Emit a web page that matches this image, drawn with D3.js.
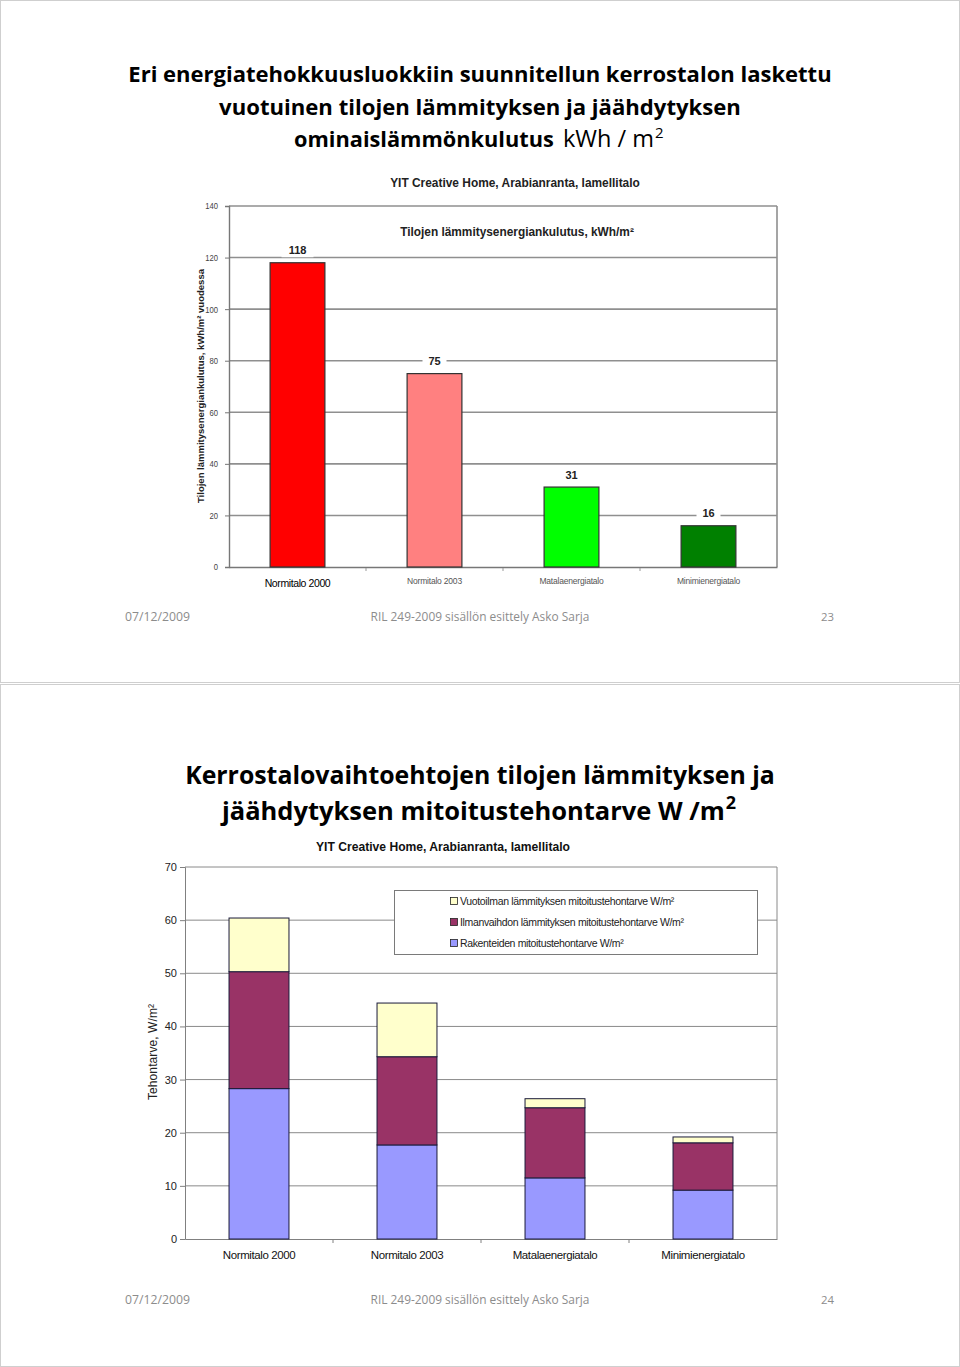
<!DOCTYPE html>
<html><head><meta charset="utf-8">
<script src="https://cdn.jsdelivr.net/npm/d3@7"></script>
<style>
html,body{margin:0;padding:0;background:#fff;}
svg{display:block;}
</style></head>
<body>
<svg id="c" width="960" height="1367"></svg>
<script>
// ---------- data ----------
const topCategories = ["Normitalo 2000", "Normitalo 2003", "Matalaenergiatalo", "Minimienergiatalo"];
const topValues = [118, 75, 31, 16];
const topColors = ["#FF0000", "#FF8080", "#00FF00", "#008000"];
const topTicks = [0, 20, 40, 60, 80, 100, 120, 140];

const botCategories = ["Normitalo 2000", "Normitalo 2003", "Matalaenergiatalo", "Minimienergiatalo"];
const seriesNames = ["Rakenteiden mitoitustehontarve W/m²", "Ilmanvaihdon lämmityksen mitoitustehontarve W/m²", "Vuotoilman lämmityksen mitoitustehontarve W/m²"];
const rakenteiden = [28.3, 17.7, 11.5, 9.2];
const ilmanvaihdon = [22.0, 16.6, 13.2, 8.9];
const vuotoilman = [10.1, 10.1, 1.7, 1.1];
const seriesColors = ["#9999FF", "#993366", "#FFFFCC"];
const botTicks = [0, 10, 20, 30, 40, 50, 60, 70];

const svg = d3.select("#c");
const sans = "'Liberation Sans', Arial, sans-serif";
const titleFont = "'Open Sans', 'Noto Sans', sans-serif";

// slide frames
svg.append("rect").attr("x", 0.5).attr("y", 0.5).attr("width", 959).attr("height", 682).attr("fill", "#fff").attr("stroke", "#cfcfcf");
svg.append("rect").attr("x", 0.5).attr("y", 684.5).attr("width", 959).attr("height", 682).attr("fill", "#fff").attr("stroke", "#cfcfcf");

// text fitted to a target width: shrink font if too wide, stretch spacing if too narrow
function fitText(g, x, y, w, txt, opts) {
  const t = g.append("text").attr("x", x).attr("y", y)
    .attr("font-family", opts.family || sans).attr("font-size", opts.size)
    .attr("font-weight", opts.weight || "normal").attr("fill", opts.fill || "#000")
    .attr("text-anchor", opts.anchor || "start").text(txt);
  if (w) {
    const nat = t.node().getComputedTextLength();
    if (nat > w) {
      t.attr("font-size", opts.size * w / nat);
    } else if (nat < w) {
      t.attr("textLength", w).attr("lengthAdjust", "spacing");
    }
  }
  if (opts.rotate) t.attr("transform", `rotate(-90,${x},${y})`);
  return t;
}

// ---------- slide 1 titles ----------
fitText(svg, 480, 82, 704, "Eri energiatehokkuusluokkiin suunnitellun kerrostalon  laskettu", {size: 24, weight: "bold", family: titleFont, anchor: "middle"});
fitText(svg, 480, 115, 522, "vuotuinen tilojen lämmityksen ja jäähdytyksen", {size: 24, weight: "bold", family: titleFont, anchor: "middle"});
fitText(svg, 294, 147, 260, "ominaislämmönkulutus", {size: 24, weight: "bold", family: titleFont});
const kwh = fitText(svg, 563, 147, 91, "kWh / m", {size: 24, family: titleFont});
fitText(svg, 563 + kwh.node().getComputedTextLength() + 1, 138, null, "2", {size: 15, family: titleFont});

// ---------- top chart ----------
const tL = 229, tR = 777, tT = 206, tB = 567;
const xTop = d3.scaleBand().domain(topCategories).range([tL, tR]).paddingInner(0.6).paddingOuter(0.3);
const yTop = d3.scaleLinear().domain([0, 140]).range([tB, tT]);
const gt = svg.append("g");

// gridlines
gt.append("g").selectAll("line").data(topTicks.filter(d => d > 0)).join("line")
  .attr("x1", tL).attr("x2", tR).attr("y1", d => yTop(d)).attr("y2", d => yTop(d))
  .attr("stroke", "#8f8f8f").attr("stroke-width", 1.6);
gt.append("line").attr("x1", tR).attr("x2", tR).attr("y1", tT).attr("y2", tB).attr("stroke", "#8f8f8f").attr("stroke-width", 1.6);

// y axis
const yAxT = gt.append("g").attr("transform", `translate(${tL},0)`)
  .call(d3.axisLeft(yTop).tickValues(topTicks).tickSize(4).tickPadding(5).tickFormat(d3.format("d")));
yAxT.select(".domain").attr("stroke", "#777").attr("stroke-width", 1.4);
yAxT.selectAll(".tick line").attr("stroke", "#777");
yAxT.selectAll(".tick text").attr("font-family", sans).attr("font-size", 9).attr("fill", "#444")
  .attr("transform", "scale(0.85,1)").attr("x", -11 / 0.85);

// x axis
const xAxT = gt.append("g").attr("transform", `translate(0,${tB})`)
  .call(d3.axisBottom(xTop).tickSize(0).tickFormat(""));
xAxT.select(".domain").attr("stroke", "#777").attr("stroke-width", 1.6);
gt.append("g").selectAll("line").data(topCategories.slice(1)).join("line")
  .attr("x1", d => xTop(d) - (xTop.step() - xTop.bandwidth()) / 2)
  .attr("x2", d => xTop(d) - (xTop.step() - xTop.bandwidth()) / 2)
  .attr("y1", tB + 1).attr("y2", tB + 4).attr("stroke", "#999");

// bars
gt.append("g").selectAll("rect").data(topValues).join("rect")
  .attr("x", (d, i) => xTop(topCategories[i])).attr("width", xTop.bandwidth())
  .attr("y", d => yTop(d)).attr("height", d => tB - yTop(d))
  .attr("fill", (d, i) => topColors[i]).attr("stroke", "#333").attr("stroke-width", 1.2);

// value labels with white background
const vl = gt.append("g").selectAll("g").data(topValues).join("g")
  .attr("transform", (d, i) => `translate(${xTop(topCategories[i]) + xTop.bandwidth() / 2},${yTop(d) - 12.5})`);
vl.append("rect").attr("x", d => -String(d).length * 4 - 4).attr("width", d => String(d).length * 8 + 8)
  .attr("y", -7).attr("height", 14).attr("fill", "#fff");
vl.append("text").text(d => d).attr("text-anchor", "middle").attr("dy", "0.36em")
  .attr("font-family", sans).attr("font-weight", "bold").attr("font-size", 11).attr("fill", "#222");

// category labels
gt.append("g").selectAll("text").data(topCategories).join("text")
  .attr("x", d => xTop(d) + xTop.bandwidth() / 2).attr("y", (d, i) => i === 0 ? 587 : 584)
  .attr("text-anchor", "middle").attr("font-family", sans)
  .attr("font-size", (d, i) => i === 0 ? 10.5 : 8.5).attr("fill", (d, i) => i === 0 ? "#000" : "#555")
  .attr("letter-spacing", (d, i) => i === 0 ? -0.4 : -0.2)
  .text(d => d);

// chart titles
fitText(gt, 515, 187, 250, "YIT Creative Home, Arabianranta, lamellitalo", {size: 12, weight: "bold", anchor: "middle", fill: "#222"});
fitText(gt, 517, 236, 234, "Tilojen lämmitysenergiankulutus, kWh/m²", {size: 12, weight: "bold", anchor: "middle", fill: "#222"});
fitText(gt, 204, 386, 234, "Tilojen lämmitysenergiankulutus, kWh/m² vuodessa", {size: 9.5, weight: "bold", anchor: "middle", fill: "#222", rotate: true});

// footer 1
const footerFill = "#8c8c8c";
fitText(svg, 125, 621, 65, "07/12/2009", {size: 12.5, family: titleFont, fill: footerFill});
fitText(svg, 480, 621, 219, "RIL 249-2009 sisällön esittely  Asko Sarja", {size: 12.5, family: titleFont, fill: footerFill, anchor: "middle"});
fitText(svg, 834, 621, 13, "23", {size: 12.5, family: titleFont, fill: footerFill, anchor: "end"});

// ---------- slide 2 titles ----------
fitText(svg, 480, 784, 590, "Kerrostalovaihtoehtojen tilojen lämmityksen ja", {size: 28, weight: "bold", family: titleFont, anchor: "middle"});
const l2 = fitText(svg, 222, 820, 503, "jäähdytyksen  mitoitustehontarve W /m", {size: 28, weight: "bold", family: titleFont});
fitText(svg, 222 + l2.node().getComputedTextLength() + 1, 809, null, "2", {size: 18, weight: "bold", family: titleFont});

// ---------- bottom chart ----------
const bL = 185, bR = 777, bT = 867, bB = 1239;
const xBot = d3.scaleBand().domain(botCategories).range([bL, bR]).paddingInner(0.595).paddingOuter(0.2975);
const yBot = d3.scaleLinear().domain([0, 70]).range([bB, bT]);
const gb = svg.append("g");

gb.append("g").selectAll("line").data(botTicks.filter(d => d > 0)).join("line")
  .attr("x1", bL).attr("x2", bR).attr("y1", d => yBot(d)).attr("y2", d => yBot(d))
  .attr("stroke", "#8a8a8a").attr("stroke-width", 1);
gb.append("line").attr("x1", bR).attr("x2", bR).attr("y1", bT).attr("y2", bB).attr("stroke", "#8a8a8a");

const yAxB = gb.append("g").attr("transform", `translate(${bL},0)`)
  .call(d3.axisLeft(yBot).tickValues(botTicks).tickSize(5).tickPadding(3).tickFormat(d3.format("d")));
yAxB.select(".domain").attr("stroke", "#808080");
yAxB.selectAll(".tick line").attr("stroke", "#808080");
yAxB.selectAll(".tick text").attr("font-family", sans).attr("font-size", 11).attr("fill", "#222");

const xAxB = gb.append("g").attr("transform", `translate(0,${bB})`)
  .call(d3.axisBottom(xBot).tickSize(0).tickPadding(12));
xAxB.select(".domain").attr("stroke", "#808080");
xAxB.selectAll(".tick text").attr("font-family", sans).attr("font-size", 11.5).attr("fill", "#111").attr("letter-spacing", -0.4);
gb.append("g").selectAll("line").data(botCategories.slice(1)).join("line")
  .attr("x1", d => xBot(d) - (xBot.step() - xBot.bandwidth()) / 2)
  .attr("x2", d => xBot(d) - (xBot.step() - xBot.bandwidth()) / 2)
  .attr("y1", bB).attr("y2", bB + 4).attr("stroke", "#808080");

// stacked bars
const stackRows = botCategories.map((c, i) => ({cat: c, s0: rakenteiden[i], s1: ilmanvaihdon[i], s2: vuotoilman[i]}));
const stacked = d3.stack().keys(["s0", "s1", "s2"])(stackRows);
gb.append("g").selectAll("g").data(stacked).join("g")
  .attr("fill", (d, i) => seriesColors[i])
  .selectAll("rect").data(d => d).join("rect")
  .attr("x", d => xBot(d.data.cat)).attr("width", xBot.bandwidth())
  .attr("y", d => yBot(d[1])).attr("height", d => yBot(d[0]) - yBot(d[1]))
  .attr("stroke", "#1a1a3a").attr("stroke-width", 1);

// chart title
fitText(gb, 443, 851, 254, "YIT Creative Home, Arabianranta, lamellitalo", {size: 13, weight: "bold", anchor: "middle", fill: "#111"});
// y label
fitText(gb, 157, 1052, 96, "Tehontarve, W/m²", {size: 12, anchor: "middle", fill: "#222", rotate: true});

// legend
const lg = gb.append("g");
lg.append("rect").attr("x", 394.5).attr("y", 890.5).attr("width", 363).attr("height", 64).attr("fill", "#fff").attr("stroke", "#7a7a7a");
const legOrder = [2, 1, 0];
const li = lg.selectAll("g.li").data(legOrder).join("g").attr("class", "li")
  .attr("transform", (d, i) => `translate(450,${901 + i * 21})`);
li.append("rect").attr("x", 0.5).attr("y", -3.5).attr("width", 7).attr("height", 7)
  .attr("fill", d => seriesColors[d]).attr("stroke", "#222").attr("stroke-width", 0.8);
li.append("text").attr("x", 10).attr("y", 0).attr("dy", "0.36em")
  .attr("font-family", sans).attr("font-size", 10.5).attr("fill", "#222").attr("letter-spacing", -0.35)
  .text(d => seriesNames[d]);

// footer 2
fitText(svg, 125, 1304, 65, "07/12/2009", {size: 12.5, family: titleFont, fill: footerFill});
fitText(svg, 480, 1304, 219, "RIL 249-2009 sisällön esittely  Asko Sarja", {size: 12.5, family: titleFont, fill: footerFill, anchor: "middle"});
fitText(svg, 834, 1304, 13, "24", {size: 12.5, family: titleFont, fill: footerFill, anchor: "end"});
</script>
</body></html>
